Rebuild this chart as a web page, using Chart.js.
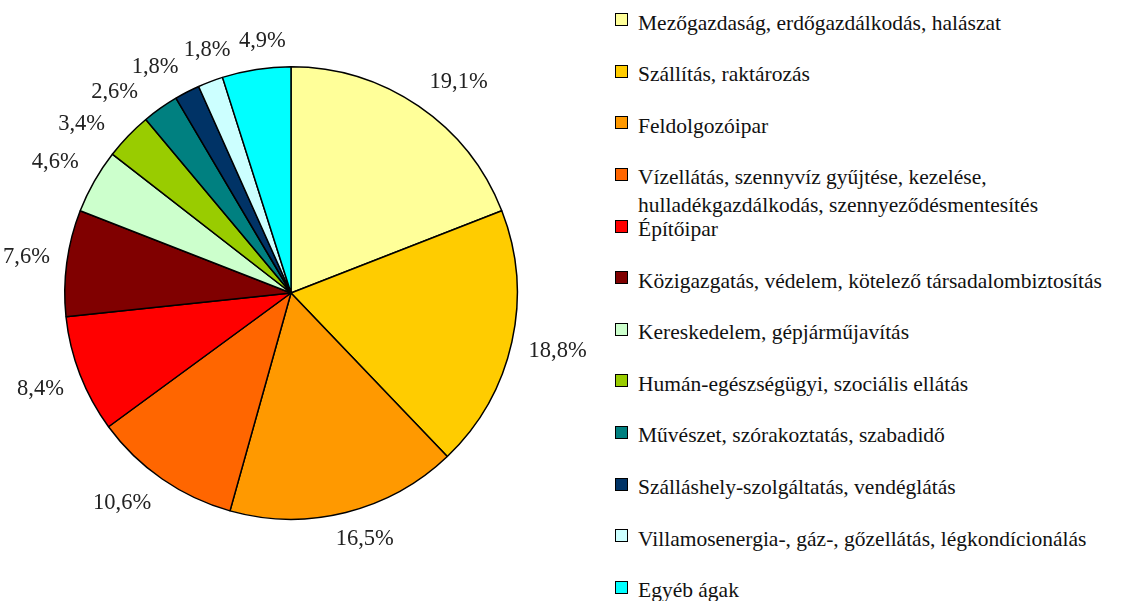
<!DOCTYPE html>
<html lang="hu">
<head>
<meta charset="utf-8">
<script src="https://cdn.jsdelivr.net/npm/chart.js@4.4.0/dist/chart.umd.min.js"></script>
<style>
  html, body { margin: 0; padding: 0; background: #fff; }
  body { width: 1140px; height: 601px; position: relative; overflow: hidden;
    font-family: "Liberation Serif", "DejaVu Serif", serif; }
  #pie-wrap { position: absolute; left: 0; top: 0; width: 590px; height: 601px; }
  #legend { position: absolute; left: 615px; top: 8.7px; margin: 0; padding: 0; list-style: none;
    font-size: 21.5px; color: #111; }
  #legend li { position: relative; height: 51.6px; padding-left: 23px; line-height: 28px; white-space: nowrap; }
  #legend .box { position: absolute; left: 0; top: 4.5px; width: 11px; height: 11px; border: 1.5px solid #000; }
</style>
</head>
<body>
<div id="pie-wrap"><canvas id="pie-chart"></canvas></div>
<ul id="legend"></ul>
<script>
const pieCanvas = document.getElementById('pie-chart');
const legendList = document.getElementById('legend');

// chart data
const sectors = [
    'Mezőgazdaság, erdőgazdálkodás, halászat',
    'Szállítás, raktározás',
    'Feldolgozóipar',
    'Vízellátás, szennyvíz gyűjtése, kezelése,\nhulladékgazdálkodás, szennyeződésmentesítés',
    'Építőipar',
    'Közigazgatás, védelem, kötelező társadalombiztosítás',
    'Kereskedelem, gépjárműjavítás',
    'Humán-egészségügyi, szociális ellátás',
    'Művészet, szórakoztatás, szabadidő',
    'Szálláshely-szolgáltatás, vendéglátás',
    'Villamosenergia-, gáz-, gőzellátás, légkondícionálás',
    'Egyéb ágak'
];
const shares = [19.1, 18.8, 16.5, 10.6, 8.4, 7.6, 4.6, 3.4, 2.6, 1.8, 1.8, 4.9];
const sliceColors = ['#FFFF99', '#FFCC00', '#FF9900', '#FF6600', '#FF0000', '#800000',
    '#CCFFCC', '#99CC00', '#008080', '#003366', '#CCFFFF', '#00FFFF'];

const clamp = v => Math.max(-1, Math.min(1, v));

// percentage labels outside the slices, spread apart where slices are thin
const outsideLabels = {
    id: 'outsideLabels',
    afterDatasetsDraw(chart) {
        const ctx = chart.ctx;
        const arcs = chart.getDatasetMeta(0).data;
        const minGap = 11 * Math.PI / 180;
        const angles = arcs.map(arc => (arc.startAngle + arc.endAngle) / 2);
        // push crowded neighbours apart evenly
        for (let n = 0; n < 400; n++) {
            for (let i = 0; i < angles.length - 1; i++) {
                const d = angles[i + 1] - angles[i];
                if (d < minGap) {
                    angles[i] -= (minGap - d) / 2;
                    angles[i + 1] += (minGap - d) / 2;
                }
            }
        }
        ctx.save();
        ctx.font = '22.5px "Liberation Serif", "DejaVu Serif", serif';
        ctx.fillStyle = '#222';
        ctx.textAlign = 'center';
        ctx.textBaseline = 'middle';
        arcs.forEach((arc, i) => {
            const text = shares[i].toFixed(1).replace('.', ',') + '%';
            const w = ctx.measureText(text).width + 6;
            const h = 26;
            const a = angles[i];
            const r = arc.outerRadius + 14;
            const x = arc.x + Math.cos(a) * r + clamp(2 * Math.cos(a)) * w / 2;
            const y = arc.y + Math.sin(a) * r + clamp(2 * Math.sin(a)) * h / 2;
            ctx.fillText(text, x, y);
        });
        ctx.restore();
    }
};

let pieChart = new Chart(pieCanvas, {
    type: 'pie',
    data: {
        labels: sectors,
        datasets: [{
            data: shares,
            backgroundColor: sliceColors,
            borderColor: '#000',
            borderWidth: 1.5
        }]
    },
    options: {
        responsive: true,
        maintainAspectRatio: false,
        animation: false,
        events: [],
        layout: {
            padding: { left: 64, right: 72, top: 66, bottom: 81 }
        },
        plugins: {
            legend: { display: false },
            tooltip: { enabled: false }
        }
    },
    plugins: [outsideLabels]
});

// legend list
function createLegend(listElement, names, colors) {
    let lis = '';
    for (let i = 0; i < names.length; i++) {
        lis += `<li><span class="box" style="background:${colors[i]}"></span>${names[i].replace('\n', '<br>')}</li>`;
    }
    return listElement.innerHTML = lis;
}

createLegend(legendList, sectors, sliceColors);
</script>
</body>
</html>
